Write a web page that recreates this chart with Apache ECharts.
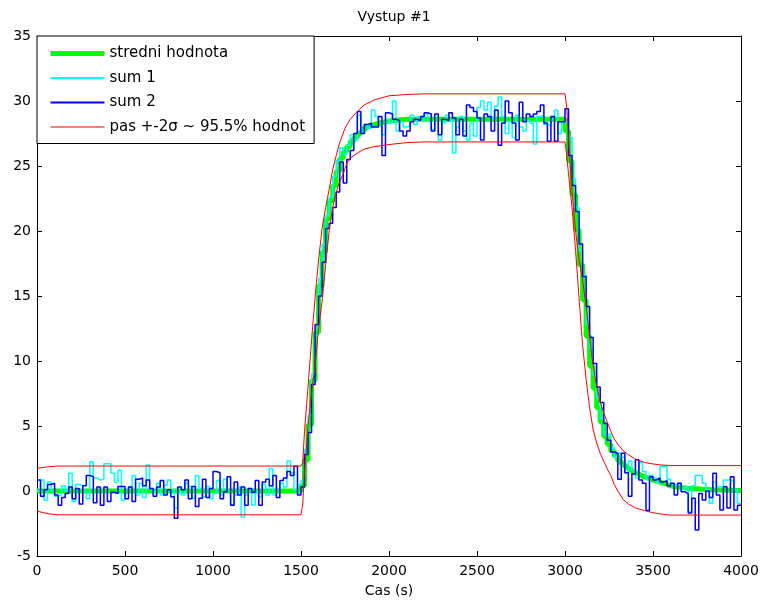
<!DOCTYPE html>
<html>
<head>
<meta charset="utf-8">
<script src="https://cdn.jsdelivr.net/npm/echarts@6/dist/echarts.min.js"></script>
<style>
html,body{margin:0;padding:0;background:#fff;}
#chart{width:760px;height:605px;}
</style>
</head>
<body>
<div id="chart"></div>
<script>
// sample period (s) of the stair series
const dt = 20;

// mean value ("stredni hodnota"), one value per 20 s sample
const meanVals = [
  0,0,0,0,0,0,0,0,0,0, 0,0,0,0,0,0,0,0,0,0, 0,0,0,0,0,0,0,0,0,0,
  0,0,0,0,0,0,0,0,0,0, 0,0,0,0,0,0,0,0,0,0, 0,0,0,0,0,0,0,0,0,0,
  0,0,0,0,0,0,0,0,0,0, 0,0,0,0,0,
  0.4,2.4,5.1,8.5,12.2,15.8,18.4,20.9,22.3,23.5,24.6,25.6,26.1,26.5,26.9,27.2,27.5,27.7,28.0,28.1,
  28.2,28.3,28.35,28.4,28.45,28.5,28.5,28.55,28.55,28.6,
  28.6,28.6,28.6,28.6,28.6,28.6,28.6,28.6,28.6,28.6, 28.6,28.6,28.6,28.6,28.6,28.6,28.6,28.6,28.6,28.6,
  28.6,28.6,28.6,28.6,28.6,28.6,28.6,28.6,28.6,28.6, 28.6,28.6,28.6,28.6,28.6,28.6,28.6,28.6,28.6,28.6,
  28.6,28.6,28.6,28.6,28.6,
  27.7,25.4,22.8,20.1,17.4,14.7,11.9,9.6,7.9,6.4,5.3,4.2,3.6,3.1,2.7,2.3,2.05,1.85,1.65,1.45,
  1.3,1.15,1.05,0.95,0.85,0.75,0.68,0.6,0.5,0.4,0.35,0.3,0.27,0.24,0.21,0.19,0.17,0.15,0.13,0.12,
  0.1,0.09,0.08,0.07,0.06,0.05,0.05,0.04,0.03,0.03,0.02
];

// noise realisation 1 ("sum 1")
const sum1Vals = [
  0.0,0.85,-0.7,0.7,0.0,-0.4,-0.3,0.4,0.0,1.36,
  -0.8,0.5,0.4,0.0,-0.6,2.25,1.0,0.85,0.9,2.1,
  2.1,1.36,0.7,1.6,-0.7,-0.2,0.3,1.2,-0.3,0.6,
  -0.5,2.0,0.2,-0.05,0.6,-0.3,0.45,0.85,0.1,-1.3,
  -0.05,-0.3,0.6,0.35,-0.55,1.2,0.2,-0.45,0.35,-0.6,
  -0.2,0.8,-0.3,0.9,0.0,-1.08,-0.3,0.3,-2.0,-0.3,
  0.2,-1.08,-0.05,-0.45,0.5,-0.3,1.74,-0.3,0.2,0.6,
  0.3,2.3,1.4,0.1,0.5,
  0.8,3.2,5.8,9.0,12.0,16.3,19.0,21.2,22.6,24.2,25.4,26.4,25.9,26.6,27.4,27.0,28.9,27.6,28.2,27.9,
  29.3,28.8,28.1,27.4,
  28.6,28.3,30.0,27.7,28.4,28.0,28.1,28.9,28.2,28.8,28.5,29.0,28.4,27.8,28.6,27.0,28.3,28.9,28.5,26.0,
  28.0,28.8,27.7,27.0,28.3,27.3,29.5,30.0,29.3,29.9,28.6,29.6,30.3,28.8,27.5,28.4,27.2,28.9,
  28.0,27.7,28.5,28.3,26.7,28.8,28.9,28.2,28.1,28.6,29.3,27.5,28.4,
  28.5,27.2,24.0,21.8,18.5,16.6,12.8,11.0,8.9,7.2,5.6,4.3,4.4,3.3,2.6,
  2.9,2.6,1.4,2.3,1.6,1.0,2.2,1.5,0.9,1.2,1.0,0.6,1.9,1.9,0.9,0.5,0.35,0.6,0.1,0.3,
  -1.6,0.4,1.2,1.2,0.6,0.1,-0.95,0.7,0.3,0.35,0.85,0.85,0.7,0.1,-0.95,-0.95
];

// noise realisation 2 ("sum 2")
const sum2Vals = [
  0.85,-0.4,0.1,0.5,0.6,-0.3,-1.1,-0.5,-0.2,0.3,
  -0.6,0.2,-1.0,0.4,1.2,1.1,-0.9,0.3,-1.1,0.3,
  -0.8,-0.1,-0.2,0.35,0.35,-0.6,0.3,-0.8,0.9,1.0,
  0.4,0.85,0.2,-0.4,0.3,0.8,-0.3,0.1,-0.45,-2.1,
  0.3,0.1,0.85,-0.6,0.35,-1.2,-0.55,0.9,-0.5,0.2,
  1.5,1.4,-0.6,-0.05,1.1,-1.1,0.7,-0.3,0.3,-1.1,
  0.2,-0.1,0.8,-1.1,0.7,0.9,0.4,1.2,-0.5,0.8,
  1.0,1.5,1.2,1.9,-0.3,
  0.3,2.8,4.5,8.2,12.8,15.0,17.6,20.2,20.6,21.8,23.0,25.3,23.7,25.5,26.2,27.5,29.2,27.5,28.2,28.3,
  28.0,28.0,28.8,25.8,
  29.1,29.0,28.6,28.5,27.7,27.3,27.7,28.4,28.6,28.5,28.8,29.1,29.0,27.7,29.0,27.4,28.6,28.5,29.1,28.7,
  27.4,28.6,27.3,29.7,29.5,29.2,28.7,27.0,29.0,28.8,27.7,29.3,26.6,28.3,30.0,29.1,28.3,27.0,29.9,28.4,
  29.0,28.8,29.0,29.2,29.7,28.3,26.9,28.8,26.9,28.4,28.4,29.4,
  25.8,23.5,21.5,19.0,16.5,14.2,11.8,9.8,8.0,
  6.8,5.2,3.9,3.0,2.9,0.9,2.9,1.4,-0.4,1.3,2.4,0.85,0.6,-1.5,1.1,0.85,1.0,0.7,0.8,0.4,
  0.6,-0.3,0.6,-0.05,-0.2,-1.7,-0.56,-3.0,-0.2,-0.7,0.0,-0.5,1.36,-0.3,-1.46,0.33,-1.3,1.1,-1.46,-1.1,-1.1
];

// +-2 sigma band: [time (s), value]
const bandUpper = [
  [0,1.75],[40,1.82],[80,1.88],[120,1.92],[1500,1.92],[1510,2.2],[1520,4.6],[1540,8.0],[1560,11.6],
  [1580,14.9],[1600,17.8],[1620,20.2],[1640,21.8],[1660,23.2],[1680,24.7],[1700,25.8],[1720,26.8],
  [1750,27.9],[1780,28.6],[1820,29.2],[1860,29.7],[1920,30.1],[2000,30.4],[2100,30.5],[2200,30.55],
  [3000,30.55],[3010,29.5],[3020,27.0],[3040,23.0],[3060,20.0],[3080,17.8],[3100,16.2],[3120,14.2],
  [3140,11.8],[3160,9.6],[3180,8.0],[3200,6.9],[3220,6.0],[3240,5.3],[3260,4.6],[3280,4.0],[3300,3.6],
  [3330,3.1],[3360,2.8],[3400,2.45],[3450,2.2],[3500,2.08],[3550,2.0],[3600,1.96],[4000,1.95]
];
const bandLower = [
  [0,-1.55],[40,-1.68],[80,-1.78],[120,-1.83],[1500,-1.83],[1510,-1.0],[1520,1.5],[1540,5.0],[1560,7.6],
  [1580,9.6],[1600,12.5],[1620,14.6],[1640,17.4],[1660,20.0],[1680,21.8],[1700,23.0],[1720,23.8],
  [1740,24.4],[1760,25.2],[1780,25.6],[1820,26.0],[1860,26.3],[1920,26.5],[2000,26.65],[2100,26.8],
  [2200,26.85],[3000,26.85],[3010,25.8],[3020,24.4],[3040,21.8],[3060,18.5],[3080,14.8],[3100,11.2],
  [3120,8.6],[3140,6.4],[3160,4.7],[3180,3.7],[3200,2.9],[3220,2.3],[3240,1.7],[3260,1.2],[3280,0.5],
  [3300,0.0],[3330,-0.65],[3360,-1.0],[3400,-1.3],[3450,-1.5],[3500,-1.67],[3550,-1.78],[3600,-1.85],
  [4000,-1.85]
];

const names = ['stredni hodnota', 'sum 1', 'sum 2', 'pas +-2\u03c3 ~ 95.5% hodnot'];
const xTicks = {min: 0, max: 4000, interval: 500};
const yTicks = {min: -5, max: 35, interval: 5};

function toPairs(vals) { return vals.map((v, i) => [i * dt, v]); }

const FONT = 'DejaVu Sans';
const chart = echarts.init(document.getElementById('chart'), null, {renderer: 'canvas'});

const axisCommon = {
  type: 'value',
  axisLine: {show: true, onZero: false, lineStyle: {color: '#000', width: 1}},
  axisTick: {show: true, inside: true, length: 5, lineStyle: {color: '#000', width: 1}},
  splitLine: {show: false},
  axisLabel: {color: '#000', fontSize: 14, fontFamily: FONT, formatter: v => String(v)}
};

function lineSeries(name, data, color, width, z, step) {
  const s = {
    name: name, type: 'line', data: data,
    symbol: 'none', showSymbol: false,
    lineStyle: {color: color, width: width}, itemStyle: {color: color},
    emphasis: {disabled: true}, z: z
  };
  if (step) s.step = 'end';
  return s;
}

chart.setOption({
  animation: false,
  backgroundColor: '#fff',
  title: {
    text: 'Vystup #1', left: 389, top: 5, textAlign: 'center',
    textStyle: {fontSize: 14, fontWeight: 'normal', color: '#000', fontFamily: FONT}
  },
  legend: {
    orient: 'vertical', left: 37, top: 36,
    padding: [10, 9, 9, 11], itemGap: 9.5, itemWidth: 54, itemHeight: 16,
    borderColor: '#000', borderWidth: 1, borderRadius: 0, backgroundColor: '#fff',
    textStyle: {fontSize: 15, color: '#000', fontFamily: FONT},
    itemStyle: {opacity: 0, borderWidth: 0},
    lineStyle: {width: 'inherit'},
    data: [
      {name: names[0], lineStyle: {width: 5}},
      {name: names[1], lineStyle: {width: 2}},
      {name: names[2], lineStyle: {width: 2}},
      {name: names[3], lineStyle: {width: 1.2}}
    ],
    selectedMode: false
  },
  grid: {left: 37, right: 19, top: 36, bottom: 49, containLabel: false, outerBoundsMode: 'none'},
  xAxis: [
    Object.assign({}, axisCommon, xTicks, {
      position: 'bottom',
      axisLabel: Object.assign({}, axisCommon.axisLabel, {margin: 8}),
      name: 'Cas (s)', nameLocation: 'middle', nameGap: 28,
      nameTextStyle: {fontSize: 14, color: '#000', fontFamily: FONT}
    }),
    Object.assign({}, axisCommon, xTicks, {position: 'top', axisLabel: {show: false}})
  ],
  yAxis: [
    Object.assign({}, axisCommon, yTicks, {
      position: 'left',
      axisLabel: Object.assign({}, axisCommon.axisLabel, {margin: 6})
    }),
    Object.assign({}, axisCommon, yTicks, {position: 'right', axisLabel: {show: false}})
  ],
  series: [
    lineSeries(names[0], toPairs(meanVals), '#00ff00', 5, 2, true),
    lineSeries(names[1], toPairs(sum1Vals), '#00ffff', 1.5, 3, true),
    lineSeries(names[2], toPairs(sum2Vals), '#0000ff', 1.5, 4, true),
    lineSeries(names[3], bandUpper, '#ff0000', 1, 5, false),
    lineSeries(names[3], bandLower, '#ff0000', 1, 5, false)
  ]
});
</script>
</body>
</html>
